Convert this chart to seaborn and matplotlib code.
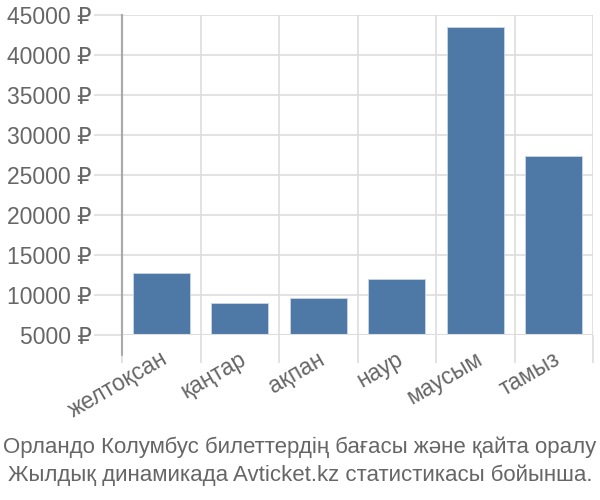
import matplotlib
matplotlib.use("Agg")
import matplotlib.pyplot as plt
import matplotlib.transforms as mtransforms
import seaborn as sns
import pandas as pd
import numpy as np

months = ["желтоқсан", "қаңтар", "ақпан", "наур", "маусым", "тамыз"]
prices = [12800, 8950, 9650, 12050, 43450, 27400]
yticks = [5000, 10000, 15000, 20000, 25000, 30000, 35000, 40000, 45000]
caption = ["Орландо Колумбус билеттердің бағасы және қайта оралу",
           "Жылдық динамикада Avticket.kz статистикасы бойынша."]

sns.set_theme(style="white")
plt.rcParams['font.family'] = ['Liberation Sans', 'DejaVu Sans']

df = pd.DataFrame({"month": months, "price": prices})

fig = plt.figure(figsize=(6, 5), dpi=100)
ax = fig.add_axes([122/600, 1-335/500, (593-122)/600, (335-15)/500])

sns.barplot(data=df, x="month", y="price", color="#4e79a7", width=0.72,
            saturation=1, ax=ax, edgecolor="#c9d6e6", linewidth=0.6, zorder=3)

ax.set_ylim(5000, 45000)
ax.set_xlim(-0.5, len(months) - 0.5)
ax.set_yticks(yticks)
ax.set_yticklabels([f"{v} ₽" for v in yticks])
ax.set_xlabel("")
ax.set_ylabel("")

grid_c = "#dddddd"
text_c = "#666666"
ax.set_xticks(np.arange(-0.5, len(months), 1.0), minor=True)
ax.grid(True, axis="y", color=grid_c, linewidth=1.2, zorder=0)
ax.grid(True, axis="x", which="minor", color=grid_c, linewidth=1.2, zorder=0)
ax.grid(False, axis="x", which="major")
ax.tick_params(axis="x", which="major", bottom=True, length=0, labelsize=16.5,
               labelcolor=text_c, pad=16)
ax.tick_params(axis="x", which="minor", bottom=True, length=20, color=grid_c, width=1.2)
ax.tick_params(axis="y", left=True, length=20, color=grid_c, width=1.2, labelsize=16.5,
               labelcolor=text_c, pad=2)

for s in ["top", "right", "bottom"]:
    ax.spines[s].set_visible(False)
ax.spines["left"].set_color("#aaaaaa")
ax.spines["left"].set_linewidth(1.5)
ax.spines["left"].set_bounds(5000, 45000)
ax.axhline(5000, color=grid_c, linewidth=1.5, zorder=4)

# left spine extension below
ax.plot([-0.5, -0.5], [-0.0625, 1], transform=ax.get_xaxis_transform(),
        color="#aaaaaa", lw=1.5, clip_on=False, zorder=5)

offset = mtransforms.ScaledTranslation(0.05, 0, fig.dpi_scale_trans)
for lbl in ax.get_xticklabels():
    lbl.set_rotation(30)
    lbl.set_ha("right")
    lbl.set_va("center")
    lbl.set_rotation_mode("anchor")
    lbl.set_transform(lbl.get_transform() + offset)

fig.text(0.5, 1-447/500, caption[0], ha="center", va="center", fontsize=16, color=text_c)
fig.text(0.5, 1-475/500, caption[1], ha="center", va="center", fontsize=16, color=text_c)

fig.savefig("out.png", dpi=100)
